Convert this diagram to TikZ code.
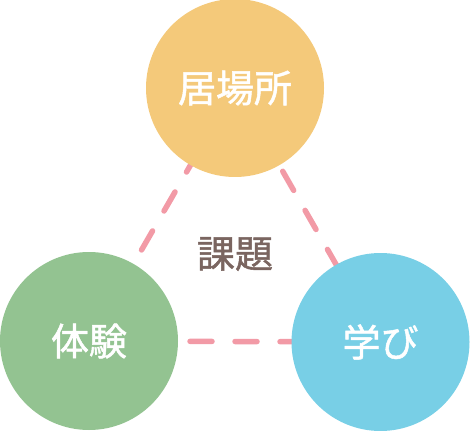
\documentclass[tikz,border=0pt]{standalone}
\usepackage{fontspec}
\usetikzlibrary{backgrounds}
\newfontfamily\cjk[FakeBold=1.3]{Noto Sans CJK JP}
\definecolor{topc}{HTML}{F4C97A}
\definecolor{leftc}{HTML}{93C391}
\definecolor{rightc}{HTML}{78CFE6}
\definecolor{linkc}{HTML}{F29AA6}
\definecolor{textc}{HTML}{7A6560}
\newcommand{\lift}[1]{\raisebox{3pt}{#1}}
\tikzset{
  bubble/.style={circle, minimum size=178pt, inner sep=0pt, text=white, font=\cjk\fontsize{38}{40}\selectfont},
  link/.style={draw=linkc, line width=5.5pt, line cap=round, dash pattern=on 22pt off 23pt}
}
\begin{document}
\begin{tikzpicture}[x=1pt,y=-1pt]
\useasboundingbox (0,0) rectangle (470,430);
\node[bubble, fill=topc] (top) at (235,88) {\lift{居場所}};
\node[bubble, fill=leftc] (left) at (89,341) {\lift{体験}};
\node[bubble, fill=rightc] (right) at (380.5,342) {\lift{学び}};
\node[text=textc, font=\cjk\fontsize{38}{40}\selectfont] (mid) at (235,254) {課題};
\begin{scope}[on background layer]
\draw[link, dash phase=15pt] (top.center) -- (left.center);
\draw[link, dash phase=39pt] (top.center) -- (right.center);
\draw[link, dash phase=34pt] (left.center) -- (right.center);
\end{scope}
\end{tikzpicture}
\end{document}
